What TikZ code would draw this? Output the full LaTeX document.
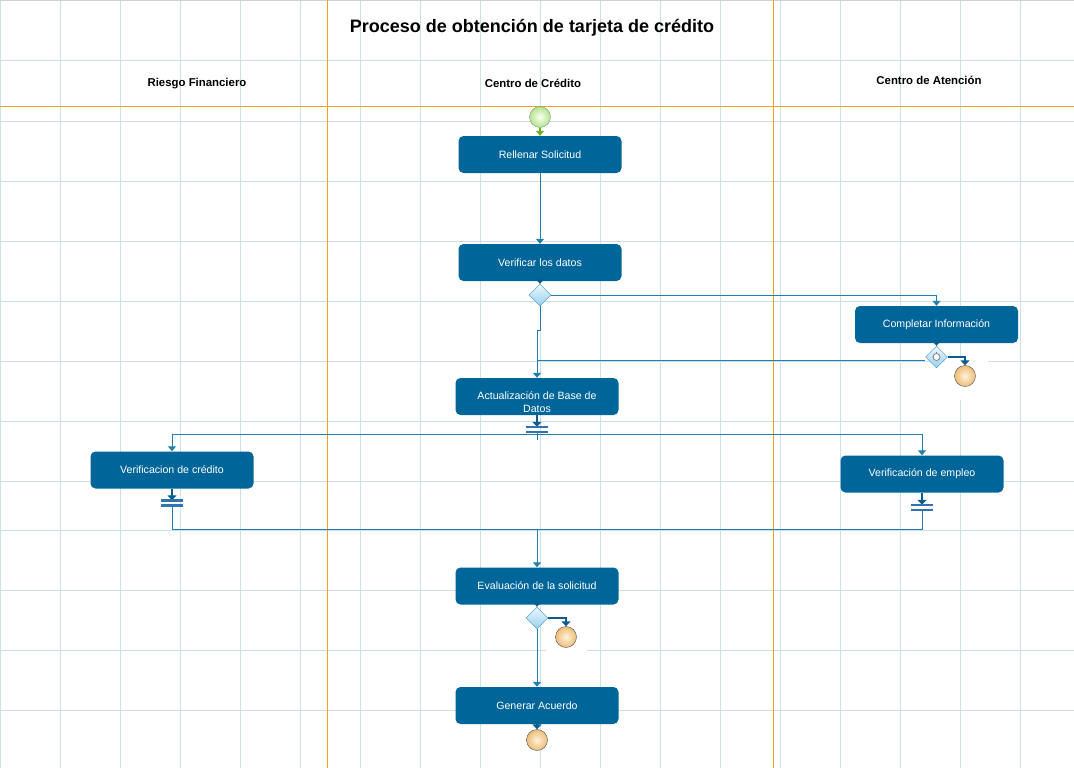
\documentclass[tikz,border=0pt]{standalone}
\usepackage{fontspec}
\setmainfont{Liberation Sans}
\usetikzlibrary{arrows.meta,shapes.geometric}

\definecolor{actblue}{RGB}{0,102,153}
\definecolor{linkblue}{RGB}{32,128,172}
\definecolor{darkblue}{RGB}{12,92,142}
\definecolor{gridblue}{RGB}{204,224,236}
\definecolor{laneorange}{RGB}{245,160,30}
\definecolor{gateline}{RGB}{60,145,195}
\definecolor{gatetop}{RGB}{238,248,254}
\definecolor{gatebot}{RGB}{150,208,238}
\definecolor{endin}{RGB}{255,242,220}
\definecolor{endout}{RGB}{238,188,118}
\definecolor{endline}{RGB}{70,80,88}
\definecolor{startin}{RGB}{250,255,245}
\definecolor{startout}{RGB}{180,228,140}
\definecolor{startline}{RGB}{130,150,120}
\definecolor{startarrow}{RGB}{110,175,40}
\definecolor{barblue}{RGB}{50,115,175}

\tikzset{
  activity/.style={fill=actblue, rounded corners=5pt, minimum width=163pt, minimum height=37pt,
    text=white, font=\fontsize{10.6}{13.5}\selectfont, align=center, inner sep=2pt},
  gate/.style={diamond, draw=gateline, top color=gatetop, bottom color=gatebot,
    minimum width=22pt, minimum height=22pt, inner sep=0pt},
  startev/.style={circle, draw=startline, inner color=startin, outer color=startout,
    minimum size=21pt, inner sep=0pt},
  endev/.style={circle, draw=endline, inner color=endin, outer color=endout,
    minimum size=21pt, inner sep=0pt},
  forkbar/.style={minimum width=22pt, minimum height=5pt, inner sep=0pt},
  lanehead/.style={font=\bfseries\fontsize{11.4}{13}\selectfont},
  link/.style={draw=linkblue, line width=1pt, -{Triangle[width=8pt,length=5pt]}},
  linkline/.style={draw=linkblue, line width=1pt},
  stub/.style={draw=darkblue, line width=2pt, -{Triangle[width=9pt,length=5pt]}},
  bars/.style={draw=barblue, line width=2.5pt},
}

\begin{document}
\begin{tikzpicture}[x=1pt,y=-1pt]
  \useasboundingbox (0,0) rectangle (1074,768);
  % grid and lanes
  \foreach \gx in {0,60,...,1020}
    \draw[gridblue, line width=1pt] (\gx,0) -- (\gx,768);
  \foreach \gy in {61,121,181,241,301,361,421,481,530,590,650,710}
    \draw[gridblue, line width=1pt] (0,\gy) -- (1074,\gy);
  \draw[gray!35, line width=1.5pt] (0,0.75) -- (1074,0.75);
  \draw[laneorange, line width=1pt] (0,106) -- (1074,106) (327,0) -- (327,768) (773,0) -- (773,768);
  \fill[white] (945,356) rectangle (988,400);
  \fill[white] (546,641) rectangle (587,668);

  \node[font=\bfseries\fontsize{18}{20}\selectfont] (title) at (532,28) {Proceso de obtención de tarjeta de crédito};
  \node[lanehead] (laneRF) at (197,84) {Riesgo Financiero};
  \node[lanehead] (laneCC) at (533,83) {Centro de Crédito};
  \node[lanehead] (laneCA) at (929,80) {Centro de Atención};

  % nodes
  \node[startev] (start) at (540,117) {};
  \node[activity] (rellenar) at (540,154.5) {Rellenar Solicitud};
  \node[activity] (verificar) at (540,262.5) {Verificar los datos};
  \node[gate] (gdatos) at (540,295) {};
  \node[activity] (completar) at (936.5,324.5) {Completar Información};
  \node[gate] (gcompl) at (936.5,357) {};
  \node[endev] (fincompl) at (965,376) {};
  \node[activity] (actualizar) at (537,396.5) {\rule{0pt}{19pt}Actualización de Base de\\Datos};
  \node[forkbar] (fork) at (537,429.5) {};
  \node[activity] (vcredito) at (172,470) {Verificacion de crédito};
  \node[activity] (vempleo) at (922,474) {Verificación de empleo};
  \node[forkbar] (joincred) at (172,503) {};
  \node[forkbar] (joinemp) at (922,507.5) {};
  \node[activity] (evaluar) at (537,586) {Evaluación de la solicitud};
  \node[gate] (geval) at (537,618) {};
  \node[endev] (fineval) at (566,637) {};
  \node[activity] (generar) at (537,705.5) {Generar Acuerdo};
  \node[endev] (fin) at (537,740) {};

  % timer mark on the gateway
  \draw[gray, fill=white, line width=0.8pt] (gcompl) circle (3.5pt);
  \draw[gray, line width=0.8pt] (gcompl) ++(0,-3.5) -- ++(0,-2);

  % connectors
  \draw[startarrow, line width=2pt, -{Triangle[width=8pt,length=5pt]}] (start) -- (rellenar);
  \draw[link] (rellenar) -- (verificar);
  \draw[stub] (verificar) -- (gdatos);
  \draw[link] (gdatos.east) -| (completar.north);
  \draw[link] (gdatos.south) -- ++(0,24) -| (actualizar.north);
  \draw[stub] (completar) -- (gcompl);
  \draw[linkline] ([yshift=-3pt]gcompl.west) -- ([yshift=-3pt]gcompl.west -| actualizar.north);
  \draw[stub] (gcompl.east) -| (fincompl.north);

  \draw[stub] (actualizar) -- (fork);
  \draw[bars] (fork.north west) -- (fork.north east) (fork.south west) -- (fork.south east);
  \path (fork.south) ++(0,2) coordinate (split);
  \draw[linkline] (fork.south) -- ++(0,8);
  \draw[link] (split) -| (vcredito.north);
  \draw[link] (split) -| (vempleo.north);

  \draw[stub] (vcredito) -- (joincred);
  \draw[bars] (joincred.north west) -- (joincred.north east) (joincred.south west) -- (joincred.south east);
  \draw[stub] (vempleo) -- (joinemp);
  \draw[bars] (joinemp.north west) -- (joinemp.north east) (joinemp.south west) -- (joinemp.south east);
  \path (evaluar.north) ++(0,-38) coordinate (merge);
  \draw[linkline] (joincred.south) |- (merge);
  \draw[linkline] (joinemp.south) |- (merge);
  \draw[link] (merge) -- (evaluar.north);

  \draw[stub] (evaluar) -- (geval);
  \draw[stub] (geval.east) -| (fineval.north);
  \draw[link] (geval) -- (generar);
  \draw[stub] (generar) -- (fin);
\end{tikzpicture}
\end{document}
